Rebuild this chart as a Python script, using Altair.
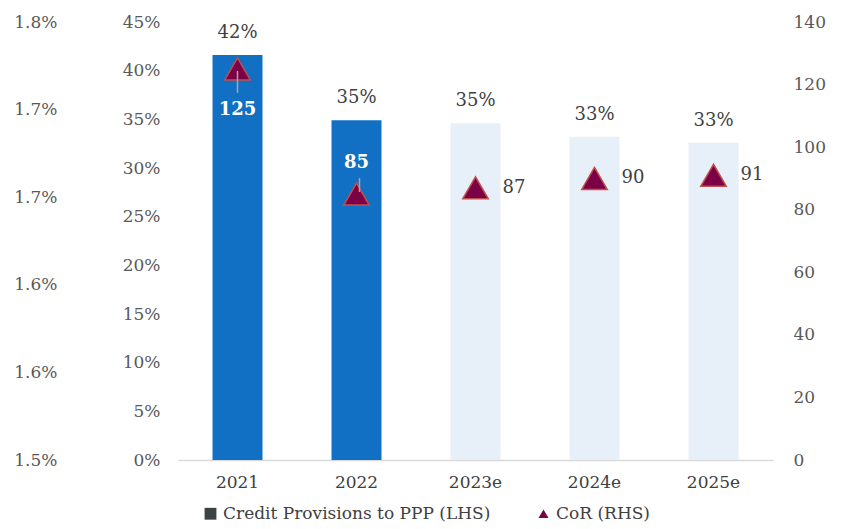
import altair as alt
import pandas as pd

years = ["2021", "2022", "2023e", "2024e", "2025e"]
provisions = [0.416, 0.349, 0.346, 0.332, 0.326]
cor = [125, 85, 87, 90, 91]
bar_colors = ["#1170C4", "#1170C4", "#E7EFF8", "#E7EFF8", "#E7EFF8"]
cor_label_pos = ["below", "above", "right", "right", "right"]
legend_names = ["Credit Provisions to PPP (LHS)", "CoR (RHS)"]
ghost_values = [0.015, 0.018]
ghost_ticks = [0.015, 0.0156, 0.0162, 0.0168, 0.0174, 0.018]
left_ticks = [0, 0.05, 0.10, 0.15, 0.20, 0.25, 0.30, 0.35, 0.40, 0.45]
right_ticks = [0, 20, 40, 60, 80, 100, 120, 140]

FONT = "DejaVu Serif"

df = pd.DataFrame({"year": years, "prov": provisions, "cor": cor,
                   "color": bar_colors, "pos": cor_label_pos})
ghost_df = pd.DataFrame({"year": [years[0]] * 2, "g": ghost_values, "series": legend_names})

x_enc = alt.X("year:N", sort=years,
              scale=alt.Scale(paddingInner=0.58, paddingOuter=0.29),
              axis=alt.Axis(title=None, labelAngle=0, ticks=False, domainColor="#d9d9d9",
                            domainWidth=1.5, labelPadding=14, labelFontSize=17,
                            labelColor="#404040"))

y_left = alt.Y("prov:Q", scale=alt.Scale(domain=[0, 0.45]),
               axis=alt.Axis(values=left_ticks, format=".0%", orient="left", title=None,
                             ticks=False, domain=False, grid=False, labelPadding=18))

y_right = alt.Y("cor:Q", scale=alt.Scale(domain=[0, 140]),
                axis=alt.Axis(values=right_ticks, orient="right", title=None, ticks=False,
                              domain=False, grid=False, labelPadding=20))

bars = alt.Chart(df).mark_bar().encode(
    x=x_enc, y=y_left, color=alt.Color("color:N", scale=None))
pct = alt.Chart(df).mark_text(baseline="bottom", dy=-13, fontSize=18, color="#404040",
                              font=FONT).encode(
    x=x_enc, y=y_left, text=alt.Text("prov:Q", format=".0%"))
bar_group = alt.layer(bars, pct)

tri = alt.Chart(df).mark_point(shape="triangle-up", filled=True, size=650, fill="#7B0046",
                               stroke="#C0504D", strokeWidth=1.5, opacity=1).encode(
    x=x_enc, y=y_right)
lead1 = alt.Chart(df).transform_filter(alt.datum.pos == "below").mark_rule(
    color="#a6a6a6", strokeWidth=1.5, yOffset=2, y2Offset=24).encode(
    x=x_enc, y=y_right, y2="cor:Q")
lead2 = alt.Chart(df).transform_filter(alt.datum.pos == "above").mark_rule(
    color="#a6a6a6", strokeWidth=1.5, yOffset=-16, y2Offset=-2, xOffset=3).encode(
    x=x_enc, y=y_right, y2="cor:Q")
lab_below = alt.Chart(df).transform_filter(alt.datum.pos == "below").mark_text(
    dy=41, fontSize=18, fontWeight="bold", color="white", font=FONT).encode(
    x=x_enc, y=y_right, text="cor:Q")
lab_above = alt.Chart(df).transform_filter(alt.datum.pos == "above").mark_text(
    dy=-31, fontSize=18, fontWeight="bold", color="white", font=FONT).encode(
    x=x_enc, y=y_right, text="cor:Q")
lab_right = alt.Chart(df).transform_filter(alt.datum.pos == "right").mark_text(
    dx=27, dy=0, align="left", fontSize=18, color="#404040", font=FONT).encode(
    x=x_enc, y=y_right, text="cor:Q")
cor_group = alt.layer(tri, lead1, lead2, lab_below, lab_above, lab_right)


def legend_spec():
    return alt.Legend(title=None, orient="none", legendX=24, legendY=483,
                      direction="horizontal", symbolOpacity=1, columnPadding=44,
                      labelFontSize=17, labelFont=FONT, labelColor="#404040",
                      symbolStrokeWidth=0, labelOffset=4, labelLimit=0)


ghost = alt.Chart(ghost_df).mark_point(filled=True, opacity=0).encode(
    x=x_enc,
    y=alt.Y("g:Q", scale=alt.Scale(domain=[0.015, 0.018]),
            axis=alt.Axis(values=ghost_ticks, format=".1%", orient="left", title=None,
                          ticks=False, domain=False, grid=False, labelPadding=18,
                          offset=103)),
    color=alt.Color("series:N", sort=legend_names,
                    scale=alt.Scale(domain=legend_names, range=["#3A4444", "#7B0046"]),
                    legend=legend_spec()),
    shape=alt.Shape("series:N", sort=legend_names,
                    scale=alt.Scale(domain=legend_names, range=["square", "triangle-up"]),
                    legend=legend_spec()),
    size=alt.Size("series:N", sort=legend_names,
                  scale=alt.Scale(domain=legend_names, range=[140, 100]),
                  legend=legend_spec()),
)

chart = alt.layer(bar_group, cor_group, ghost).resolve_scale(
    y="independent"
).properties(width=595, height=438).configure_view(stroke=None).configure_axis(
    labelFont=FONT, labelFontSize=17, labelColor="#595959", grid=False
)

chart.save("out.html", embed_options={"renderer": "svg", "actions": False})
